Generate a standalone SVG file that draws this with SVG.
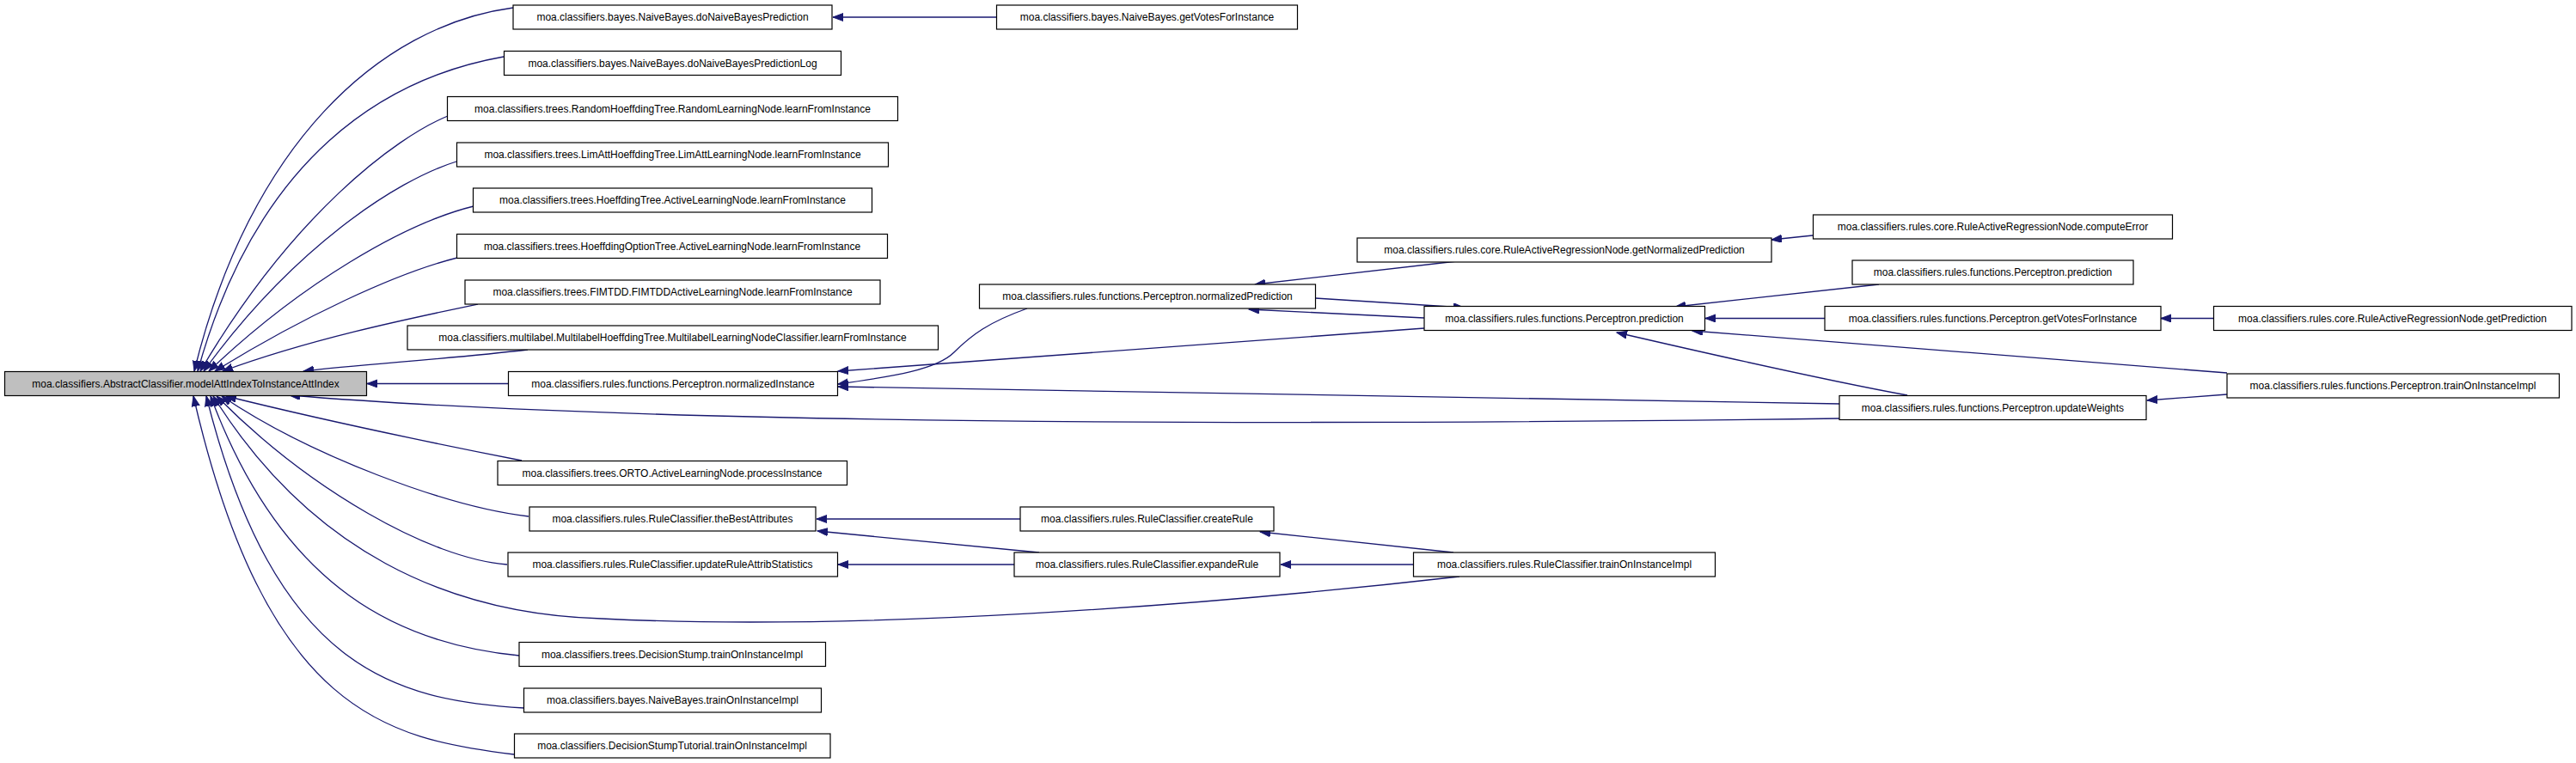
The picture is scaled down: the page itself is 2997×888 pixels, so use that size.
<svg xmlns="http://www.w3.org/2000/svg" width="2997" height="888" viewBox="0 0 2997 888">
<style>
.n rect{fill:#fff;stroke:#000;stroke-width:1.2}
.root rect{fill:#bfbfbf}
.n text{font-family:"Liberation Sans",Arial,sans-serif;font-size:12px;text-anchor:middle;fill:#000}
.e path{fill:none;stroke:#191970;stroke-width:1.3;marker-end:url(#ah)}
</style>
<defs>
<marker id="ah" markerUnits="userSpaceOnUse" markerWidth="14" markerHeight="10" refX="12" refY="4.5" orient="auto">
<path d="M0,0 L12,4.5 L0,9 z" fill="#191970" stroke="#191970" stroke-width="1"/>
</marker>
</defs>
<rect width="2997" height="888" fill="#fff"/>
<g class="e" id="edges">
<path d="M1159,20 L969,20"/>
<path d="M597,9 C440,30 290,170 226,432"/>
<path d="M586,66 C450,90 300,180 230,432"/>
<path d="M521,135 C460,160 340,250 233,432"/>
<path d="M531,188 C460,210 340,290 237,432"/>
<path d="M551,240 C470,260 350,330 243,432"/>
<path d="M532,300 C460,318 350,370 250,432"/>
<path d="M556,354 C470,372 360,395 259,432"/>
<path d="M614,407 C520,418 420,424 353,432"/>
<path d="M591,446.5 L427,446.5"/>
<path d="M607,536 C500,515 380,490 263,461"/>
<path d="M615,601 C520,590 360,530 258,461"/>
<path d="M590,657 C500,650 360,570 252,461"/>
<path d="M1698,671 C1400,705 1000,735 700,720 C520,715 360,640 248,461"/>
<path d="M604,763 C470,750 330,690 245,461"/>
<path d="M610,824 C460,815 320,780 240,461"/>
<path d="M598,878 C450,860 310,830 225,461"/>
<path d="M2141,487 C1600,494 800,498 337,460"/>
<path d="M2141,470 C1600,462 1200,454 975,450"/>
<path d="M1657,382 L975,432"/>
<path d="M1195,359 C1150,375 1130,390 1110,410 C1090,430 1040,438 975,447"/>
<path d="M1695,304 L1460,331"/>
<path d="M1530,347 L1703,358"/>
<path d="M1657,370 L1453,360"/>
<path d="M2109,274 L2061,279"/>
<path d="M2186,331 L1949,357"/>
<path d="M2123,370.5 L1984,370.5"/>
<path d="M2575,370.5 L2514,370.5"/>
<path d="M2591,434 L1969,385"/>
<path d="M2219,460 Q2110,440 1881,387"/>
<path d="M2591,459 L2498,466"/>
<path d="M1187,604 L950,604"/>
<path d="M1209,643 L951,618"/>
<path d="M1180,657 L975,657"/>
<path d="M1691,643 L1466,619"/>
<path d="M1644,657 L1490,657"/>
</g>
<g class="n root" id="root"><rect x="5.5" y="432.5" width="421" height="28"/><text x="216" y="450.5">moa.classifiers.AbstractClassifier.modelAttIndexToInstanceAttIndex</text></g>
<g class="n" id="n1"><rect x="597" y="6" width="371" height="28"/><text x="782.5" y="24">moa.classifiers.bayes.NaiveBayes.doNaiveBayesPrediction</text></g>
<g class="n" id="n2"><rect x="586.5" y="59.5" width="392" height="28"/><text x="782.5" y="77.5">moa.classifiers.bayes.NaiveBayes.doNaiveBayesPredictionLog</text></g>
<g class="n" id="n3"><rect x="520.5" y="112.5" width="524" height="28"/><text x="782.5" y="130.5">moa.classifiers.trees.RandomHoeffdingTree.RandomLearningNode.learnFromInstance</text></g>
<g class="n" id="n4"><rect x="531.5" y="166" width="502" height="28"/><text x="782.5" y="184">moa.classifiers.trees.LimAttHoeffdingTree.LimAttLearningNode.learnFromInstance</text></g>
<g class="n" id="n5"><rect x="550.5" y="219" width="464" height="28"/><text x="782.5" y="237">moa.classifiers.trees.HoeffdingTree.ActiveLearningNode.learnFromInstance</text></g>
<g class="n" id="n6"><rect x="531.5" y="272.5" width="501" height="28"/><text x="782" y="290.5">moa.classifiers.trees.HoeffdingOptionTree.ActiveLearningNode.learnFromInstance</text></g>
<g class="n" id="n7"><rect x="541" y="326" width="483" height="28"/><text x="782.5" y="344">moa.classifiers.trees.FIMTDD.FIMTDDActiveLearningNode.learnFromInstance</text></g>
<g class="n" id="n8"><rect x="474" y="379" width="617.5" height="28"/><text x="782.5" y="397">moa.classifiers.multilabel.MultilabelHoeffdingTree.MultilabelLearningNodeClassifier.learnFromInstance</text></g>
<g class="n" id="n9"><rect x="591.5" y="432.5" width="383" height="28"/><text x="783" y="450.5">moa.classifiers.rules.functions.Perceptron.normalizedInstance</text></g>
<g class="n" id="n10"><rect x="579" y="536.5" width="406.5" height="28"/><text x="782" y="554.5">moa.classifiers.trees.ORTO.ActiveLearningNode.processInstance</text></g>
<g class="n" id="n11"><rect x="616" y="590" width="333" height="28"/><text x="782.5" y="608">moa.classifiers.rules.RuleClassifier.theBestAttributes</text></g>
<g class="n" id="n12"><rect x="591" y="643" width="383.5" height="28"/><text x="782.5" y="661">moa.classifiers.rules.RuleClassifier.updateRuleAttribStatistics</text></g>
<g class="n" id="n13"><rect x="604" y="747.5" width="356.5" height="28"/><text x="782" y="765.5">moa.classifiers.trees.DecisionStump.trainOnInstanceImpl</text></g>
<g class="n" id="n14"><rect x="609.5" y="801" width="346" height="28"/><text x="782.5" y="819">moa.classifiers.bayes.NaiveBayes.trainOnInstanceImpl</text></g>
<g class="n" id="n15"><rect x="598.5" y="854" width="367.5" height="28"/><text x="782" y="872">moa.classifiers.DecisionStumpTutorial.trainOnInstanceImpl</text></g>
<g class="n" id="n16"><rect x="1159.5" y="6" width="350" height="28"/><text x="1334.5" y="24">moa.classifiers.bayes.NaiveBayes.getVotesForInstance</text></g>
<g class="n" id="n17"><rect x="1139.5" y="331" width="391" height="28"/><text x="1335" y="349">moa.classifiers.rules.functions.Perceptron.normalizedPrediction</text></g>
<g class="n" id="n18"><rect x="1187" y="590" width="295" height="28"/><text x="1334.5" y="608">moa.classifiers.rules.RuleClassifier.createRule</text></g>
<g class="n" id="n19"><rect x="1180" y="643" width="309" height="28"/><text x="1334.5" y="661">moa.classifiers.rules.RuleClassifier.expandeRule</text></g>
<g class="n" id="n20"><rect x="1579" y="277" width="482" height="28"/><text x="1820" y="295">moa.classifiers.rules.core.RuleActiveRegressionNode.getNormalizedPrediction</text></g>
<g class="n" id="n21"><rect x="1657" y="356.5" width="326.5" height="28"/><text x="1820" y="374.5">moa.classifiers.rules.functions.Perceptron.prediction</text></g>
<g class="n" id="n22"><rect x="1644.5" y="643" width="351" height="28"/><text x="1820" y="661">moa.classifiers.rules.RuleClassifier.trainOnInstanceImpl</text></g>
<g class="n" id="n23"><rect x="2109.5" y="250" width="418" height="28"/><text x="2318.5" y="268">moa.classifiers.rules.core.RuleActiveRegressionNode.computeError</text></g>
<g class="n" id="n24"><rect x="2155" y="303" width="327" height="28"/><text x="2318.5" y="321">moa.classifiers.rules.functions.Perceptron.prediction</text></g>
<g class="n" id="n25"><rect x="2123" y="356.5" width="391" height="28"/><text x="2318.5" y="374.5">moa.classifiers.rules.functions.Perceptron.getVotesForInstance</text></g>
<g class="n" id="n26"><rect x="2140" y="460.5" width="357" height="28"/><text x="2318.5" y="478.5">moa.classifiers.rules.functions.Perceptron.updateWeights</text></g>
<g class="n" id="n27"><rect x="2575.5" y="356.5" width="416.5" height="28"/><text x="2783.5" y="374.5">moa.classifiers.rules.core.RuleActiveRegressionNode.getPrediction</text></g>
<g class="n" id="n28"><rect x="2591" y="435" width="386.5" height="28"/><text x="2784" y="453">moa.classifiers.rules.functions.Perceptron.trainOnInstanceImpl</text></g>
</svg>
